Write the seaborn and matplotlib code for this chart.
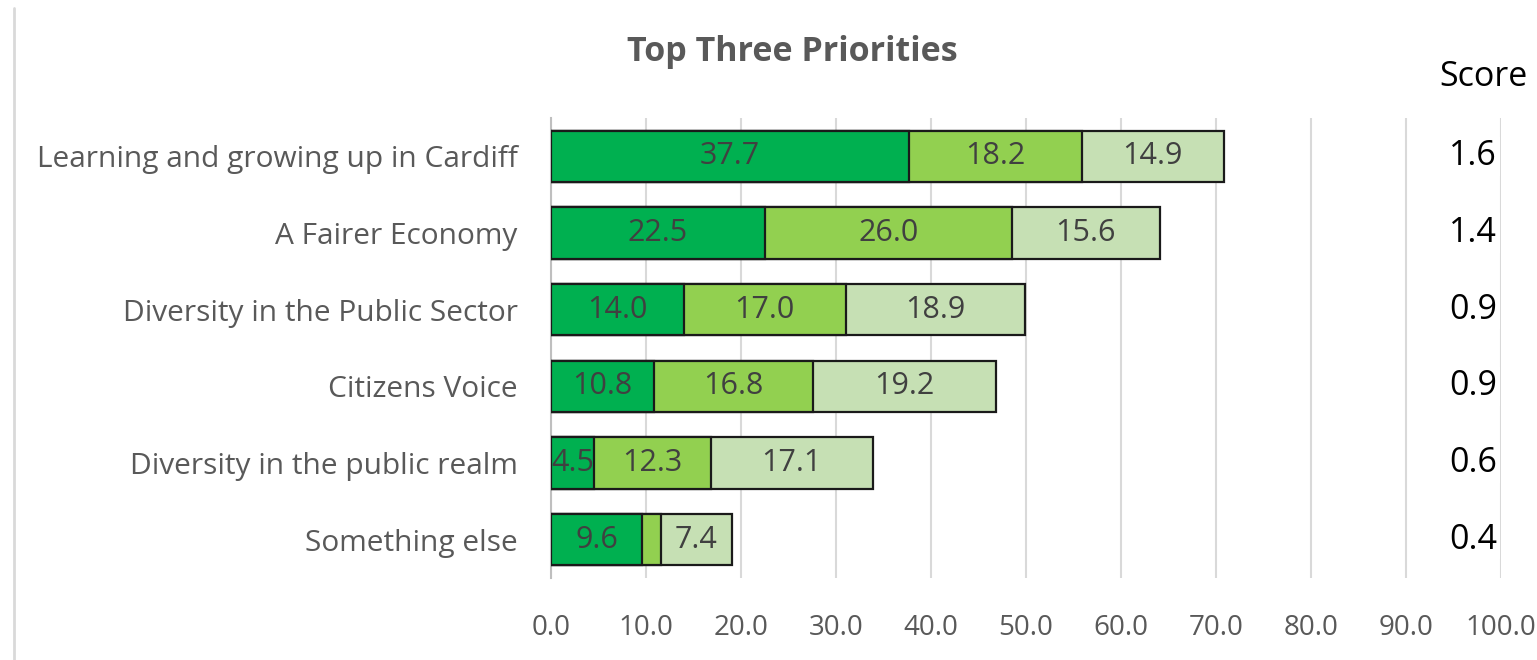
import matplotlib
matplotlib.use("Agg")
import matplotlib.pyplot as plt
import matplotlib.transforms as mtransforms
import seaborn as sns
import pandas as pd
from matplotlib.lines import Line2D

categories = ["Learning and growing up in Cardiff", "A Fairer Economy",
              "Diversity in the Public Sector", "Citizens Voice",
              "Diversity in the public realm", "Something else"]
first = [37.7, 22.5, 14.0, 10.8, 4.5, 9.6]
second = [18.2, 26.0, 17.0, 16.8, 12.3, 2.0]
third = [14.9, 15.6, 18.9, 19.2, 17.1, 7.4]
scores = ["1.6", "1.4", "0.9", "0.9", "0.6", "0.4"]
xticks = [0, 10, 20, 30, 40, 50, 60, 70, 80, 90, 100]

sns.set_theme(style="white")
plt.rcParams['font.family'] = ['Open Sans', 'DejaVu Sans']

df = pd.DataFrame({"cat": categories, "a": first, "b": second, "c": third})
df["ab"] = df["a"] + df["b"]
df["abc"] = df["ab"] + df["c"]

fig = plt.figure(figsize=(15.37, 6.6), dpi=100)
ax = fig.add_axes([551/1537, 1-578/660, 950/1537, 460/660])

cols = ["#C6E0B4", "#92D050", "#00B050"]
for col, c in zip(["abc", "ab", "a"], cols):
    sns.barplot(data=df, x=col, y="cat", order=categories, orient="h",
                color=c, saturation=1, width=0.67, edgecolor="#1a1a1a",
                linewidth=1.6, ax=ax, zorder=3)

ax.set_xlim(0, 100)
ax.set_xticks(xticks)
ax.set_xticklabels([f"{v:.1f}" for v in xticks], color="#595959", fontsize=20)
ax.tick_params(axis="x", length=0, pad=26)
ax.tick_params(axis="y", length=0, pad=24)
ax.set_yticks(range(len(categories)))
ax.set_yticklabels(categories, color="#595959", fontsize=21.5)
ax.set_xlabel("")
ax.set_ylabel("")
ax.xaxis.grid(True, color="#d9d9d9", linewidth=1.5, zorder=0)
ax.set_axisbelow(True)
for s in ["top", "right", "bottom"]:
    ax.spines[s].set_visible(False)
ax.spines["left"].set_color("#bfbfbf")
ax.spines["left"].set_linewidth(1.5)

score_tr = mtransforms.blended_transform_factory(fig.transFigure, ax.transData)
for i in range(len(categories)):
    starts = [0, first[i], first[i] + second[i]]
    vals = [first[i], second[i], third[i]]
    for s0, v in zip(starts, vals):
        if v >= 3:
            ax.text(s0 + v/2, i, f"{v:.1f}", ha="center", va="center",
                    color="#404040", fontsize=22, zorder=5, clip_on=True)
    ax.text(1473/1537, i, scores[i], transform=score_tr,
            ha="center", va="center", color="#000000", fontsize=24.5, zorder=6,
            bbox=dict(facecolor="white", edgecolor="none", pad=2))

fig.text(1483/1537, 1-77/660, "Score", ha="center", va="center",
         color="#000000", fontsize=24.5)
fig.text(792/1537, 1-52/660, "Top Three Priorities", ha="center", va="center",
         color="#595959", fontsize=24.5, fontweight="bold")
fig.add_artist(Line2D([14/1537, 14/1537], [0, 1-8/660], transform=fig.transFigure,
                      color="#d9d9d9", linewidth=2))

fig.savefig("out.png", dpi=100)
